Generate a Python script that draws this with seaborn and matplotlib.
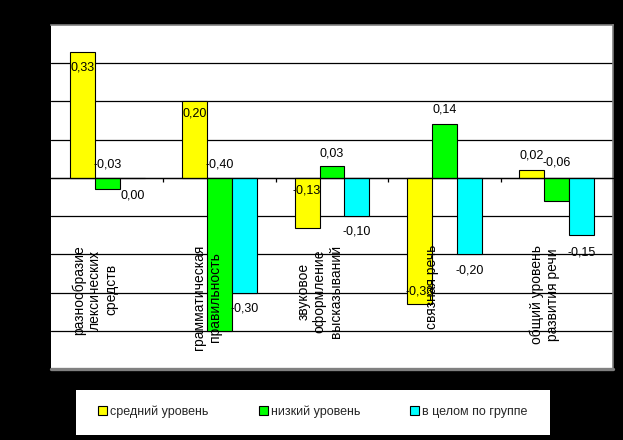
import numpy as np
import pandas as pd
import matplotlib
matplotlib.use('Agg')
import matplotlib.pyplot as plt
import seaborn as sns
from matplotlib.patches import Rectangle

# data
categories = ['разнообразие\nлексических\nсредств',
              'грамматическая\nправильность',
              'звуковое\nоформление\nвысказываний',
              'связная речь',
              'общий уровень\nразвития речи']
series = ['средний уровень', 'низкий уровень', 'в целом по группе']
srednij = [0.33, 0.20, -0.13, -0.33, 0.02]
nizkij = [-0.03, -0.40, 0.03, 0.14, -0.06]
v_celom = [0.00, -0.30, -0.10, -0.20, -0.15]
colors = ['#ffff00', '#00ff00', '#00ffff']

# where excel put the value labels (offset from value, data units)
label_offsets = [
    [-0.042, -0.032, 0.096, 0.032, 0.038],
    [0.064, 0.434, 0.035, 0.04, 0.1],
    [-0.045, -0.043, -0.041, -0.043, -0.046],
]

df = pd.DataFrame({
    'cat': categories * 3,
    'series': np.repeat(series, len(categories)),
    'value': srednij + nizkij + v_celom,
})

sns.set_style('white')
plt.rcParams['font.family'] = ['Liberation Sans', 'DejaVu Sans']

fig = plt.figure(figsize=(6.23, 4.40), dpi=100, facecolor='black')
ax = fig.add_axes([51 / 623, 1 - 369 / 440, 562 / 623, 344 / 440])
ax.set_facecolor('white')

sns.barplot(data=df, x='cat', y='value', hue='series', order=categories,
            hue_order=series, palette=colors, width=0.667, errorbar=None,
            edgecolor='black', linewidth=0.8, saturation=1, ax=ax, legend=False)

ax.set_xlim(-0.5, 4.5)
ax.set_ylim(-0.5, 0.4)
ax.set_yticks(np.arange(-0.4, 0.31, 0.1))
ax.yaxis.grid(True, color='black', linewidth=0.9)
ax.set_axisbelow(True)
ax.tick_params(axis='y', length=0, labelleft=False)
ax.set_xlabel('')
ax.set_ylabel('')

# x axis on zero line with ticks between groups
ax.spines['bottom'].set_position(('data', 0))
ax.spines['bottom'].set_color('black')
ax.spines['bottom'].set_linewidth(0.9)
ax.set_xticks(np.arange(0.5, 4.6, 1.0))
ax.set_xticklabels([])
ax.tick_params(axis='x', direction='out', length=3, width=0.9, color='black', bottom=True)
ax.spines['left'].set_visible(False)
for s in ['top', 'right']:
    ax.spines[s].set_color('#808080')
    ax.spines[s].set_linewidth(1.2)
ax.axhline(-0.5, color='#808080', linewidth=2.4, clip_on=False)

# value labels
bw = 0.667 / 3
for i, vals in enumerate([srednij, nizkij, v_celom]):
    for j, v in enumerate(vals):
        x = j - bw + i * bw
        txt = f'{v:.2f}'.replace('.', ',')
        ax.text(x, v + label_offsets[i][j], txt, ha='center', va='center',
                fontsize=9, color='black')

# category labels, rotated inside the plot
for j, c in enumerate(categories):
    ax.text(j - 0.11, -0.175, c, rotation=90, ha='center', va='top',
            multialignment='center', fontsize=10, color='black', linespacing=1.2)

# legend on a white box
fig.patches.append(Rectangle((76 / 623, 1 - 435 / 440), 474 / 623, 45 / 440,
                             transform=fig.transFigure, facecolor='white',
                             edgecolor='none', zorder=0))
handles = [Rectangle((0, 0), 1, 1, facecolor=c, edgecolor='black', linewidth=0.8)
           for c in colors]
fig.legend(handles, series, loc='center', bbox_to_anchor=(313 / 623, 1 - 412 / 440),
           ncol=3, frameon=False, fontsize=9, handlelength=0.72, handleheight=0.72,
           handletextpad=0.25, columnspacing=4.0)

fig.savefig('out.png', dpi=100, facecolor='black')
